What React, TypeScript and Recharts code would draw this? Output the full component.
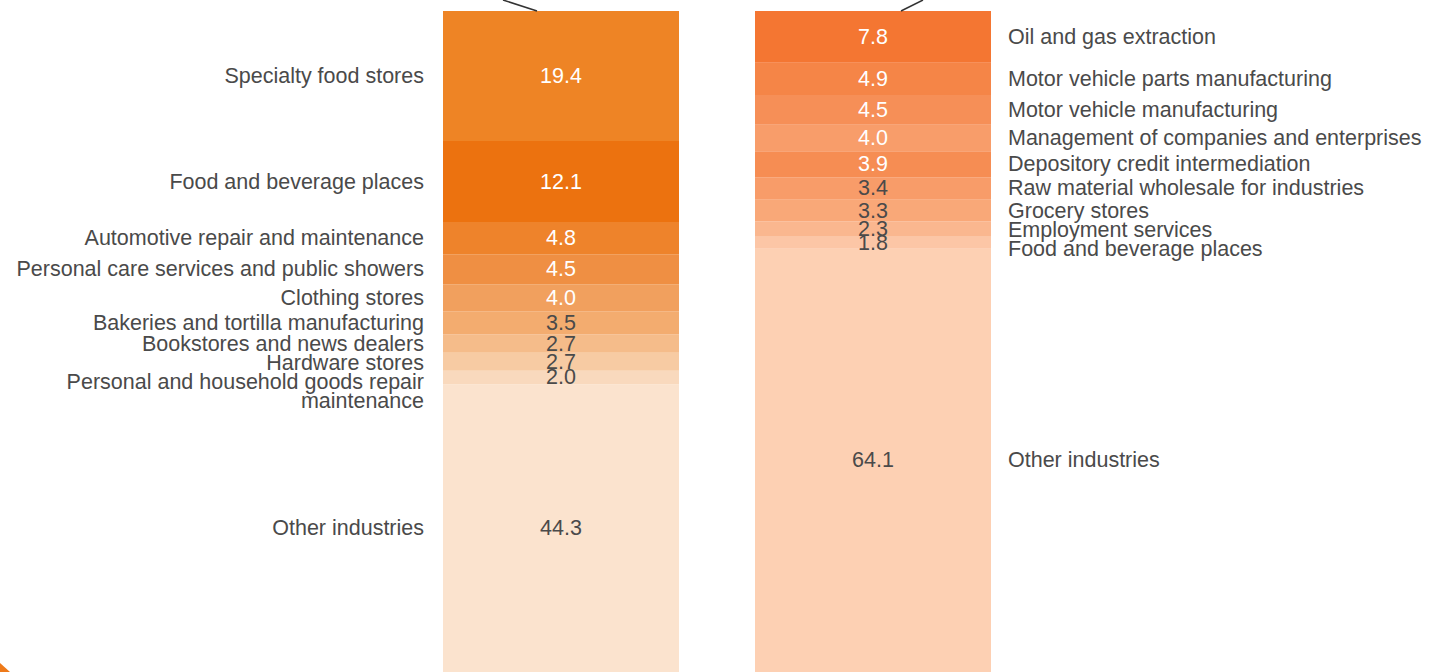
import { BarChart, Bar, XAxis, YAxis, LabelList } from 'recharts';

// segments are listed top to bottom, as they read in the picture
const leftNames = [
  'Specialty food stores',
  'Food and beverage places',
  'Automotive repair and maintenance',
  'Personal care services and public showers',
  'Clothing stores',
  'Bakeries and tortilla manufacturing',
  'Bookstores and news dealers',
  'Hardware stores',
  'Personal and household goods repair\nmaintenance',
  'Other industries',
];
const leftValues = [19.4, 12.1, 4.8, 4.5, 4.0, 3.5, 2.7, 2.7, 2.0, 44.3];

const rightNames = [
  'Oil and gas extraction',
  'Motor vehicle parts manufacturing',
  'Motor vehicle manufacturing',
  'Management of companies and enterprises',
  'Depository credit intermediation',
  'Raw material wholesale for industries',
  'Grocery stores',
  'Employment services',
  'Food and beverage places',
  'Other industries',
];
const rightValues = [7.8, 4.9, 4.5, 4.0, 3.9, 3.4, 3.3, 2.3, 1.8, 64.1];

const leftColors = ['#ee8425', '#ec720f', '#ee832b', '#ef8f43', '#f1a05e', '#f3ac6f', '#f5bc8a', '#f7cba3', '#f9d9bd', '#fbe3ce'];
const rightColors = ['#f47632', '#f58547', '#f68f57', '#f89d6a', '#f68d53', '#f89c69', '#f9a878', '#fab78f', '#fcc6a6', '#fdd0b3'];

const FONT = '"Liberation Sans", Arial, sans-serif';
const FONT_SIZE = 21.5;
const TEXT = '#4a4a4a';
const PAGE_W = 1429;
const PAGE_H = 672;
const MIN_GAP = 19;

const toRow = (values: number[]) => {
  const row: Record<string, number | string> = { name: 'share' };
  values.forEach((v, i) => (row[`s${i}`] = v));
  return row;
};

// centres of every segment, derived from the rect recharts gives for segment i
const centres = (values: number[], i: number, y: number, height: number, avoid: boolean) => {
  const unit = height / values[i];
  let acc = y - values.slice(0, i).reduce((a, b) => a + b, 0) * unit;
  const out: number[] = [];
  values.forEach((v, k) => {
    const bottom = Math.min(acc + v * unit, PAGE_H);
    let c = (acc + bottom) / 2;
    if (avoid && k > 0) c = Math.max(c, out[k - 1] + MIN_GAP);
    out.push(c);
    acc += v * unit;
  });
  return out[i];
};

const nameLabel = (values: number[], names: string[], i: number, side: 'left' | 'right') => (props: any) => {
  const x = Number(props.x);
  const y = Number(props.y);
  const width = Number(props.width);
  const height = Number(props.height);
  const cy = centres(values, i, y, height, true);
  const lines = names[i].split('\n');
  const tx = side === 'left' ? x - 19 : x + width + 17;
  return (
    <text
      x={tx}
      y={cy}
      textAnchor={side === 'left' ? 'end' : 'start'}
      fontFamily={FONT}
      fontSize={FONT_SIZE}
      fill={TEXT}
    >
      {lines.map((line, k) => (
        <tspan key={k} x={tx} dy={k === 0 ? 7 : 19}>
          {line}
        </tspan>
      ))}
    </text>
  );
};

const valueLabel = (values: number[], i: number) => (props: any) => {
  const x = Number(props.x);
  const y = Number(props.y);
  const width = Number(props.width);
  const height = Number(props.height);
  const cy = centres(values, i, y, height, false);
  return (
    <text
      x={x + width / 2}
      y={cy + 7}
      textAnchor="middle"
      fontFamily={FONT}
      fontSize={FONT_SIZE}
      fill={i < 5 ? '#ffffff' : TEXT}
    >
      {values[i].toFixed(1)}
    </text>
  );
};

const StackColumn = ({
  names,
  values,
  colors,
  side,
  left,
  plotHeight,
}: {
  names: string[];
  values: number[];
  colors: string[];
  side: 'left' | 'right';
  left: number;
  plotHeight: number;
}) => {
  const barW = 236;
  const order = values.map((_, i) => i).reverse(); // bottom segment first
  return (
    <div style={{ position: 'absolute', left: 0, top: 0 }}>
      <BarChart
        width={PAGE_W}
        height={11 + plotHeight}
        data={[toRow(values)]}
        margin={{ top: 11, right: PAGE_W - left - barW, bottom: 0, left }}
        barCategoryGap={0}
      >
        <XAxis dataKey="name" hide />
        <YAxis hide domain={[0, 100]} allowDataOverflow />
        {order.map((i) => (
          <Bar key={i} dataKey={`s${i}`} stackId="a" fill={colors[i]} isAnimationActive={false}>
            <LabelList dataKey={`s${i}`} content={valueLabel(values, i)} />
            <LabelList dataKey={`s${i}`} content={nameLabel(values, names, i, side)} />
          </Bar>
        ))}
      </BarChart>
    </div>
  );
};

export default function App() {
  return (
    <div
      style={{
        position: 'absolute',
        left: 0,
        top: 0,
        width: PAGE_W,
        height: PAGE_H,
        overflow: 'hidden',
        background: '#ffffff',
      }}
    >
      <StackColumn names={leftNames} values={leftValues} colors={leftColors} side="left" left={443} plotHeight={670} />
      <StackColumn names={rightNames} values={rightValues} colors={rightColors} side="right" left={755} plotHeight={662} />
      <svg width={PAGE_W} height={PAGE_H} style={{ position: 'absolute', left: 0, top: 0, pointerEvents: 'none' }}>
        <line x1={503} y1={0} x2={537} y2={11} stroke="#333333" strokeWidth={1.5} />
        <line x1={923} y1={0} x2={901} y2={11} stroke="#333333" strokeWidth={1.5} />
        <path d="M0,663 L10,672 L0,672 Z" fill="#ee7a1a" />
      </svg>
    </div>
  );
}
